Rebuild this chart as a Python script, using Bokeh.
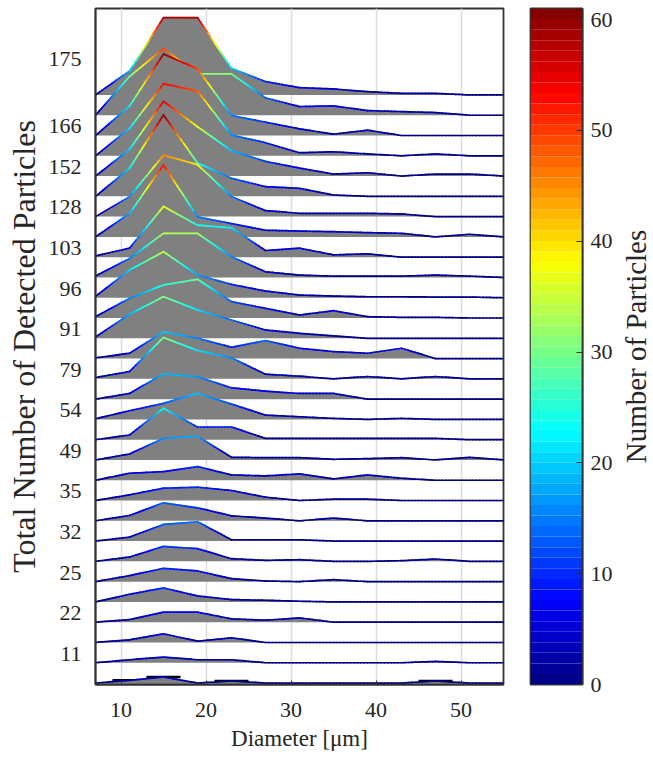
import numpy as np
from bokeh.plotting import figure
from bokeh.layouts import row
from bokeh.models import FixedTicker
from bokeh.core.properties import value
from bokeh.embed import file_html
from bokeh.resources import INLINE

# ---------------- data ----------------
diameter = [7, 11, 15, 19, 23, 27, 31, 35, 39, 43, 47, 51, 55]

# particle counts per diameter bin, one list per acquisition (bottom row first)
r00 = [0, 2, 4.5, 0, 1.5, 0, 0, 0, 0, 0, 1.5, 0, 0]
r01 = [0, 2.25, 4.25, 2.25, 2.25, 0, 0, 0, 0, 0, 1, 0, 0]
r02 = [0, 2, 6.5, 1, 3.5, 0, 0, 0, 0, 0, 0, 0, 0]
r03 = [0, 2, 7.5, 7.5, 2.5, 1.5, 3.25, 0, 0, 0, 0, 0, 0]
r04 = [0, 5.75, 10.5, 4.5, 1.75, 1.25, 0.5, 0, 0, 0, 0, 0, 0]
r05 = [0, 4.5, 10, 8, 2.25, 0.5, 0, 1.5, 0, 0, 0, 0, 0]
r06 = [0, 3.25, 11.25, 9.5, 2, 0.75, 1.25, 0, 0, 0.5, 1.75, 0, 0]
r07 = [0, 3, 12.5, 14.5, 1, 1, 1, 0, 0, 0, 0, 0, 0]
r08 = [0, 4, 13.5, 9.75, 3.75, 2, 0, 2, 0, 0, 0, 0, 0]
r09 = [0, 4.25, 9.25, 10, 7.5, 2.5, 0, 1, 1, 0, 0, 0, 0]
r10 = [0, 5.25, 6.5, 10.25, 4, 3.25, 4.75, 1, 4, 1.5, 0, 0, 0]
r11 = [0, 4.5, 16.25, 17.75, 2, 1.75, 1.75, 0.5, 1, 1.75, 0, 2, 0]
r12 = [0, 3.5, 23.5, 9.5, 9.5, 1, 1, 1, 1, 1, 1, 0, 0]
r13 = [0.5, 6.5, 12, 19.5, 11.5, 3.25, 2, 0.75, 0, 0.75, 0, 0, 0]
r14 = [0, 4.25, 19, 16.75, 8.5, 6, 4.25, 4.25, 0, 0, 0, 0, 0]
r15 = [1, 5.5, 31, 21.25, 15.75, 3.5, 2, 0, 1.75, 0, 1.75, 0, 0]
r16 = [0.5, 4, 20, 15.25, 8.5, 13.5, 7.75, 5.25, 4, 7.75, 0, 0, 0]
r17 = [1, 18, 31.25, 21.25, 13.75, 6.25, 3.75, 1.75, 0, 0, 0, 0, 0]
r18 = [1, 14.75, 24.75, 29, 12.25, 7.25, 2.25, 5.5, 1, 0.5, 0.5, 0, 0]
r19 = [1, 20.75, 34.5, 17, 10, 5, 2, 1.25, 0.75, 0.75, 0.5, 0.5, 0]
r20 = [1, 14.25, 33, 33, 15.5, 4.25, 1.75, 1, 1, 1, 1.75, 1, 0]
r21 = [1, 6.75, 38, 24, 22, 5, 6.75, 1.75, 2.5, 0, 0, 0, 0]
r22 = [0, 17.5, 54, 15, 10, 5, 4.4, 3.9, 3.2, 2.7, 0, 2, 0]
r23 = [0, 15, 46, 39, 15, 4.5, 2.5, 2.5, 2.5, 2, 0, 0, 0]
r24 = [0, 21, 61, 25, 13.5, 7.3, 6, 1, 0, 0, 0, 0, 0]
r25 = [0, 20, 56, 37, 19, 11, 6, 1.5, 2.5, 0, 1.5, 1.5, 0]
r26 = [0, 20.5, 54, 48.5, 15.5, 9.8, 2.3, 3, 1.4, 0, 1.4, 0, 0]
r27 = [0, 22, 61, 50, 15, 10, 5, 1, 4, 0, 0, 0, 0]
r28 = [0, 29, 50, 31, 31, 13, 6.5, 7, 3.5, 2.7, 2, 0, 0]
r29 = [0, 18, 58, 58, 20, 10, 5.5, 4.5, 2.5, 1.2, 1.2, 0, 0]

rows = [r00, r01, r02, r03, r04, r05, r06, r07, r08, r09, r10, r11, r12, r13, r14,
        r15, r16, r17, r18, r19, r20, r21, r22, r23, r24, r25, r26, r27, r28, r29]

total_labels = ["11", "22", "25", "32", "35", "49", "54", "79", "91", "96",
                "103", "128", "152", "166", "175"]

x_ticks = [10, 20, 30, 40, 50]
cbar_ticks = [0, 10, 20, 30, 40, 50, 60]

# ---------------- style ----------------
ROW_STEP = 15.2      # vertical offset between rows, in particle units
CMAX = 61.0
FONT = "Liberation Serif"
TXT = "#262626"
GRAY = "#808080"
EDGE = "#333333"


def jet(t):
    t = min(max(t, 0.0), 1.0)
    r = min(max(1.5 - abs(4 * t - 3), 0), 1)
    g = min(max(1.5 - abs(4 * t - 2), 0), 1)
    b = min(max(1.5 - abs(4 * t - 1), 0), 1)
    return "#%02x%02x%02x" % (int(r * 255 + .5), int(g * 255 + .5), int(b * 255 + .5))


p = figure(frame_width=408, frame_height=676, x_range=(7, 55), y_range=(-1.1, 505.6),
           output_backend="svg", toolbar_location=None,
           min_border_left=95, min_border_right=5, min_border_top=8, min_border_bottom=75)
p.background_fill_color = "white"
p.border_fill_color = "white"
p.outline_line_color = EDGE
p.outline_line_width = 1.8
p.ygrid.visible = False
p.xgrid.grid_line_color = "#dcdcdc"
p.xgrid.grid_line_width = 1.5

for r, vals in reversed(list(enumerate(rows))):
    base = r * ROW_STEP
    top = [base + v for v in vals]
    if r == 0:
        bx0, bx1, by = [], [], []
        for xv, v in zip(diameter, vals):
            if v > 0:
                bx0.append(xv - 2); bx1.append(xv + 2); by.append(base + v)
        p.segment(x0=bx0, x1=bx1, y0=by, y1=by, line_color="black", line_width=2.5)
    p.varea(x=diameter, y1=[base] * len(diameter), y2=top, fill_color=GRAY)
    x0, y0, x1, y1, cols = [], [], [], [], []
    n = 10
    for i in range(len(diameter) - 1):
        for k in range(n):
            ta, tb = k / n, (k + 1) / n
            xa = diameter[i] + (diameter[i + 1] - diameter[i]) * ta
            xb = diameter[i] + (diameter[i + 1] - diameter[i]) * tb
            va = vals[i] + (vals[i + 1] - vals[i]) * ta
            vb = vals[i] + (vals[i + 1] - vals[i]) * tb
            x0.append(xa); x1.append(xb); y0.append(base + va); y1.append(base + vb)
            cols.append(jet((va + vb) / 2 / CMAX))
    p.segment(x0=x0, y0=y0, x1=x1, y1=y1, line_color=cols, line_width=1.7, line_cap="round")

# y axis: totals on every other row
tick_pos = [round((k + 0.45) * ROW_STEP, 2) for k in range(1, 28, 2)] + [round(30.75 * ROW_STEP, 2)]
p.yaxis.ticker = FixedTicker(ticks=tick_pos)
p.yaxis.major_label_overrides = {t: lab for t, lab in zip(tick_pos, total_labels)}
p.yaxis.axis_label = "Total Number of Detected Particles"
p.xaxis.ticker = FixedTicker(ticks=x_ticks)
p.xaxis.axis_label = "Diameter [\u03bcm]"
for ax in (p.xaxis[0], p.yaxis[0]):
    ax.axis_line_color = EDGE
    ax.axis_line_width = 1.8
    ax.major_tick_out = 0
    ax.minor_tick_line_color = None
    ax.major_label_text_font = FONT
    ax.major_label_text_font_size = "22px"
    ax.major_label_text_color = TXT
    ax.axis_label_text_font = FONT
    ax.axis_label_text_font_style = "normal"
    ax.axis_label_text_color = TXT
p.yaxis.axis_label_text_font_size = "32px"
p.xaxis.axis_label_text_font_size = "23px"
p.yaxis.major_tick_in = 0
p.yaxis.major_label_standoff = 14
p.yaxis.axis_label_standoff = 4
p.xaxis.major_tick_in = 4
p.xaxis.major_tick_line_color = EDGE
p.xaxis.major_label_standoff = 18
p.xaxis.axis_label_standoff = 6

# ---------------- colorbar ----------------
cb = figure(frame_width=52, frame_height=676, x_range=(0, 1), y_range=(0, CMAX),
            output_backend="svg", toolbar_location=None, y_axis_location="right",
            min_border_left=22, min_border_right=36, min_border_top=8, min_border_bottom=75)
cb.xaxis.visible = False
cb.grid.visible = False
cb.outline_line_color = EDGE
cb.outline_line_width = 1.8
nlev = 64
edges = np.linspace(0, CMAX, nlev + 1)
cb.quad(left=0, right=1, bottom=edges[:-1], top=edges[1:],
        fill_color=[jet((i + 0.5) / nlev) for i in range(nlev)], line_color=None)
ya = cb.yaxis[0]
ya.ticker = FixedTicker(ticks=cbar_ticks)
ya.axis_line_color = EDGE
ya.axis_line_width = 1.8
ya.major_tick_in = 6
ya.major_tick_out = 0
ya.major_tick_line_color = EDGE
ya.minor_tick_line_color = None
ya.major_label_text_font = FONT
ya.major_label_text_font_size = "22px"
ya.major_label_text_color = TXT
ya.major_label_standoff = 8

# colorbar title, in its own narrow panel
lab = figure(frame_width=35, frame_height=676, x_range=(0, 1), y_range=(0, 1),
             output_backend="svg", toolbar_location=None,
             min_border_left=0, min_border_right=0, min_border_top=8, min_border_bottom=75)
lab.axis.visible = False
lab.grid.visible = False
lab.outline_line_color = None
lab.text(x=[0.5], y=[0.5], text=["Number of Particles"], angle=np.pi / 2,
         text_align="center", text_baseline="middle", text_font=value(FONT),
         text_font_size="29px", text_color=TXT)

layout = row(p, cb, lab)
open("out.html", "w").write(file_html(layout, INLINE))
